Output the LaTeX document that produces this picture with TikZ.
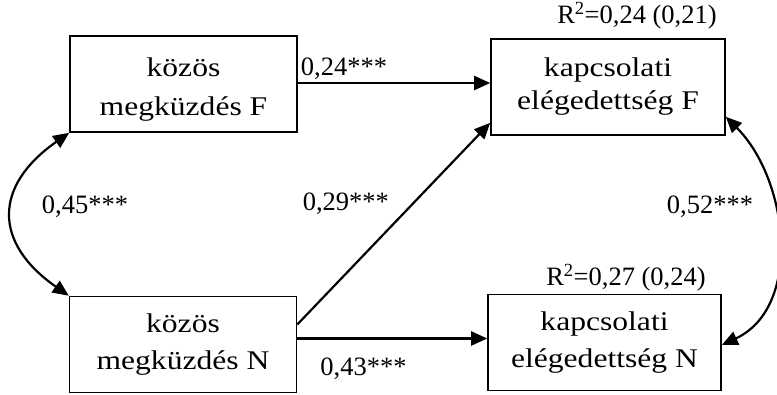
\documentclass[tikz,border=0pt]{standalone}
\usepackage{fontspec}
\setmainfont{Liberation Serif}
\newfontfamily\boxfont{Liberation Serif}[FakeStretch=1.17]
\usetikzlibrary{positioning,arrows.meta}

\begin{document}
\begin{tikzpicture}[x=1pt, y=1pt,
  b/.style={draw, line width=1.6pt, align=center, minimum height=96pt, inner sep=0pt, font=\boxfont\fontsize{27}{#1}\selectfont},
  b/.default=37,
  l/.style={font=\fontsize{26.5}{30}\selectfont, inner sep=2pt},
  a/.style={line width=2.2pt, -{Triangle[length=16pt,width=14pt]}},
  d/.style={line width=2.2pt, {Triangle[length=16pt,width=14pt]}-{Triangle[length=16pt,width=14pt]}}]
  \useasboundingbox (0,0) rectangle (777,394);
  \node[b=39, minimum width=227pt] (A) at (183.5,310) {\rule{0pt}{29pt}közös\\megküzdés F};
  \node[b, minimum width=227pt] (B) at (183,49.5) {közös\\megküzdés N};
  \node[b=33, minimum width=234pt] (C) at (608,307) {kapcsolati\\elégedettség F};
  \node[b, minimum width=233pt] (D) at (604.5,51.5) {kapcsolati\\elégedettség N};
  \node[l, above=7pt of C, xshift=29pt] (C_r2) {R\textsuperscript{2}=0,24 (0,21)};
  \node[l, above=0pt of D, xshift=21.5pt] (D_r2) {R\textsuperscript{2}=0,27 (0,24)};

  \draw[a] ([yshift=1pt]A.east) -- ([yshift=1pt]A.east -| C.west) node[l, pos=0, above right] (AC_label) {0,24***};
  \draw[a] ([yshift=20pt]B.east) -- ([yshift=13pt]C.south west) node[l, pos=0.6, left, xshift=-21pt] (BC_label) {0,29***};
  \draw[a] ([yshift=6pt]B.east) -- ([yshift=6pt]B.east -| D.west) node[l, pos=0, below right, xshift=20pt, yshift=-16pt] (BD_label) {0,43***};
  \draw[d] (A.south west) to[out=215, in=145, looseness=1.45] (B.north west);
  \node[l] (AB_label) at (85,187) {0,45***};
  \draw[d] ([yshift=19pt]C.south east) to[out=-45, in=25] ([yshift=-2.5pt]D.east);
  \node[l] (CD_label) at (710,187) {0,52***};
\end{tikzpicture}
\end{document}
